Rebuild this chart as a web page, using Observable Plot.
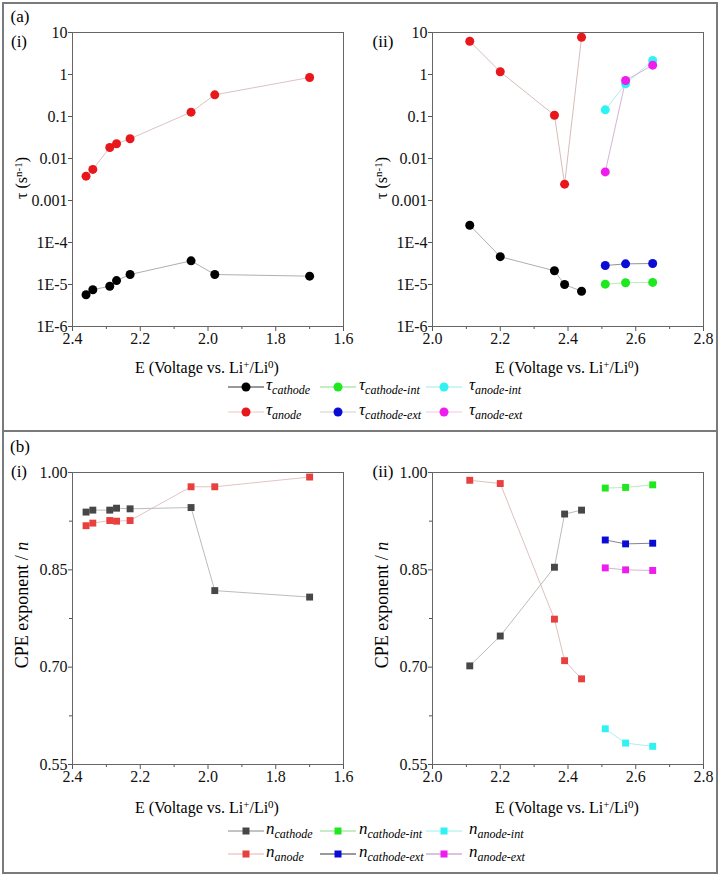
<!DOCTYPE html>
<html><head><meta charset="utf-8">
<script src="https://cdn.jsdelivr.net/npm/d3@7"></script>
<script src="https://cdn.jsdelivr.net/npm/@observablehq/plot@0.6"></script>
<style>
body{margin:0;background:#fff;}
#root{position:relative;width:720px;height:875px;font-family:"Liberation Serif","Tinos","DejaVu Serif",serif;color:#000;overflow:hidden;}
.abs{position:absolute;white-space:nowrap;}
.c{transform:translate(-50%,-50%);}
.rot{transform:translate(-50%,-50%) rotate(-90deg);}
sup.s{font-size:11px;position:relative;top:-0.5em;vertical-align:baseline;line-height:0;}
.lab{font-size:17px;}
.ttl{font-size:16px;}
.cpe{font-size:18px;}
.leg{font-size:17px;font-style:italic;}
.leg sub{font-size:12px;vertical-align:baseline;position:relative;top:0.35em;line-height:0;}
</style></head><body><div id="root"></div>
<script>
// ---------- data ----------
const E_i = [2.36, 2.34, 2.29, 2.27, 2.23, 2.05, 1.98, 1.70];
const tauCathode_i = [5.7e-6, 7.5e-6, 9.1e-6, 1.24e-5, 1.73e-5, 3.66e-5, 1.73e-5, 1.58e-5];
const tauAnode_i = [0.0038, 0.0055, 0.0183, 0.0224, 0.0295, 0.127, 0.328, 0.85];
const E_ii = [2.11, 2.20, 2.36, 2.39, 2.44];
const tauCathode_ii = [2.58e-4, 4.6e-5, 2.12e-5, 1.0e-5, 6.9e-6];
const tauAnode_ii = [6.2, 1.16, 0.107, 0.00245, 7.7];
const E_layer = [2.51, 2.57, 2.65];
const tauCathodeInt = [1.02e-5, 1.1e-5, 1.12e-5];
const tauCathodeExt = [2.83e-5, 3.1e-5, 3.16e-5];
const tauAnodeInt = [0.144, 0.6, 2.15];
const tauAnodeExt = [0.0048, 0.72, 1.67];
const nCathode_i = [0.939, 0.942, 0.942, 0.945, 0.944, 0.946, 0.818, 0.808];
const nAnode_i = [0.918, 0.922, 0.926, 0.925, 0.926, 0.978, 0.978, 0.993];
const nCathode_ii = [0.702, 0.748, 0.854, 0.936, 0.942];
const nAnode_ii = [0.988, 0.983, 0.774, 0.710, 0.682];
const nCathodeInt = [0.976, 0.977, 0.981];
const nCathodeExt = [0.896, 0.890, 0.891];
const nAnodeInt = [0.605, 0.583, 0.578];
const nAnodeExt = [0.853, 0.850, 0.849];

// ---------- ticks ----------
const xTicksI = [2.4, 2.2, 2.0, 1.8, 1.6];
const xMinorI = [2.3, 2.1, 1.9, 1.7];
const xTicksII = [2.0, 2.2, 2.4, 2.6, 2.8];
const xMinorII = [2.1, 2.3, 2.5, 2.7];
const tauTicks = [1e-6, 1e-5, 1e-4, 1e-3, 1e-2, 0.1, 1, 10];
const tauTickLabels = ["1E-6", "1E-5", "1E-4", "0.001", "0.01", "0.1", "1", "10"];
const nTicks = [0.55, 0.70, 0.85, 1.00];
const nMinor = [0.625, 0.775, 0.925];

const root = document.getElementById("root");
const FONT = "'Liberation Serif','Tinos','DejaVu Serif',serif";

function put(html, cls, x, y) {
  const d = document.createElement("div");
  d.className = "abs " + cls;
  d.style.left = x + "px"; d.style.top = y + "px";
  d.innerHTML = html;
  root.appendChild(d);
  return d;
}

function panel(o) {
  const marks = [];
  for (const s of o.series) {
    const data = s.x.map((x, i) => ({x, y: s.y[i]}));
    marks.push(Plot.line(data, {x: "x", y: "y", stroke: s.line, strokeWidth: 0.8}));
  }
  for (const s of o.series) {
    const data = s.x.map((x, i) => ({x, y: s.y[i]}));
    marks.push(Plot.dot(data, {x: "x", y: "y", fill: s.color, r: o.r, symbol: o.symbol, stroke: "none"}));
  }
  marks.push(Plot.axisX({ticks: o.xTicks, tickSize: 5, tickPadding: 1, tickFormat: d => d.toFixed(1), label: null, stroke: "#555"}));
  marks.push(Plot.axisX({ticks: o.xMinor, tickSize: 3, tickFormat: () => "", label: null, stroke: "#555"}));
  marks.push(Plot.axisY({ticks: o.yTicks, tickSize: 4, tickPadding: 1, tickFormat: o.yFormat, label: null, stroke: "#555"}));
  if (o.yMinor) marks.push(Plot.axisY({ticks: o.yMinor, tickSize: 3, tickFormat: () => "", label: null, stroke: "#555"}));
  marks.push(Plot.frame({stroke: "#666", strokeWidth: 1}));
  const svg = Plot.plot({
    width: 360, height: o.height,
    marginLeft: 72, marginRight: 17, marginTop: o.marginTop, marginBottom: o.marginBottom,
    x: {domain: o.xDomain},
    y: {type: o.yType, domain: o.yDomain},
    style: {fontFamily: FONT, fontSize: "16px", background: "transparent", color: "#111", overflow: "visible"},
    marks
  });
  svg.style.position = "absolute";
  svg.style.left = o.left + "px";
  svg.style.top = o.top + "px";
  root.appendChild(svg);
}

const tauFmt = d => tauTickLabels[tauTicks.findIndex(t => Math.abs(Math.log10(t) - Math.log10(d)) < 1e-6)];
const nFmt = d => d.toFixed(2);

// (a)(i)
panel({left: 0, top: 0, height: 356, marginTop: 32, marginBottom: 30,
  xDomain: [2.4, 1.6], xTicks: xTicksI, xMinor: xMinorI,
  yType: "log", yDomain: [1e-6, 10], yTicks: tauTicks, yFormat: tauFmt,
  r: 4.5, symbol: "circle",
  series: [
    {x: E_i, y: tauCathode_i, color: "#000000", line: "#9a9a9a"},
    {x: E_i, y: tauAnode_i, color: "#e8171b", line: "#d3b3b3"}
  ]});
// (a)(ii)
panel({left: 360, top: 0, height: 356, marginTop: 32, marginBottom: 30,
  xDomain: [2.0, 2.8], xTicks: xTicksII, xMinor: xMinorII,
  yType: "log", yDomain: [1e-6, 10], yTicks: tauTicks, yFormat: tauFmt,
  r: 4.5, symbol: "circle",
  series: [
    {x: E_ii, y: tauCathode_ii, color: "#000000", line: "#9a9a9a"},
    {x: E_ii, y: tauAnode_ii, color: "#e8171b", line: "#cfaaaa"},
    {x: E_layer, y: tauCathodeInt, color: "#1ee81e", line: "#a8e6a8"},
    {x: E_layer, y: tauCathodeExt, color: "#0b0bd6", line: "#777777"},
    {x: E_layer, y: tauAnodeInt, color: "#2ff2f2", line: "#9ae8e8"},
    {x: E_layer, y: tauAnodeExt, color: "#ee1cee", line: "#c9a0c9"}
  ]});
// (b)(i)
panel({left: 0, top: 440, height: 354, marginTop: 32, marginBottom: 30,
  xDomain: [2.4, 1.6], xTicks: xTicksI, xMinor: xMinorI,
  yType: "linear", yDomain: [0.55, 1.00], yTicks: nTicks, yFormat: nFmt, yMinor: nMinor,
  r: 3.9, symbol: "square",
  series: [
    {x: E_i, y: nCathode_i, color: "#474747", line: "#aaaaaa"},
    {x: E_i, y: nAnode_i, color: "#e8403f", line: "#dbb5b5"}
  ]});
// (b)(ii)
panel({left: 360, top: 440, height: 354, marginTop: 32, marginBottom: 30,
  xDomain: [2.0, 2.8], xTicks: xTicksII, xMinor: xMinorII,
  yType: "linear", yDomain: [0.55, 1.00], yTicks: nTicks, yFormat: nFmt, yMinor: nMinor,
  r: 3.9, symbol: "square",
  series: [
    {x: E_ii, y: nCathode_ii, color: "#474747", line: "#aaaaaa"},
    {x: E_ii, y: nAnode_ii, color: "#e8403f", line: "#d6b0b0"},
    {x: E_layer, y: nCathodeInt, color: "#1ee81e", line: "#a8e6a8"},
    {x: E_layer, y: nCathodeExt, color: "#0b0bd6", line: "#666677"},
    {x: E_layer, y: nAnodeInt, color: "#2ff2f2", line: "#9ae8e8"},
    {x: E_layer, y: nAnodeExt, color: "#ee1cee", line: "#c9a0c9"}
  ]});

// ---------- borders ----------
const border = document.createElement("div");
border.style.cssText = "position:absolute;left:2px;top:2px;width:716px;height:872px;border:2px solid #7a7a7a;box-sizing:border-box;";
root.appendChild(border);
const sep = document.createElement("div");
sep.style.cssText = "position:absolute;left:2px;top:430px;width:716px;height:2px;background:#7a7a7a;";
root.appendChild(sep);

// ---------- panel labels ----------
put("(a)", "lab c", 20, 17);
put("(i)", "lab c", 19, 42);
put("(ii)", "lab c", 383, 42);
put("(b)", "lab c", 20, 447);
put("(i)", "lab c", 19, 472);
put("(ii)", "lab c", 383, 472);

// ---------- axis titles ----------
const xTitle = "E (Voltage vs. Li<sup class='s'>+</sup>/Li<sup class='s'>0</sup>)";
put(xTitle, "ttl c", 207, 368);
put(xTitle, "ttl c", 567, 368);
put(xTitle, "ttl c", 207, 808);
put(xTitle, "ttl c", 567, 808);
const tauTitle = "τ (s<sup class='s'>n-1</sup>)";
put(tauTitle, "ttl rot", 22, 178);
put(tauTitle, "ttl rot", 382, 178);
put("CPE exponent / <i>n</i>", "cpe rot", 22, 605);
put("CPE exponent / <i>n</i>", "cpe rot", 382, 605);

// ---------- legends ----------
const legCols = [{m: 246, t: 266}, {m: 338, t: 359}, {m: 444, t: 469}];
function legend(symbolChar, rows, items, shape) {
  items.forEach((it, k) => {
    const col = legCols[k % 3], y = rows[Math.floor(k / 3)];
    const sv = document.createElementNS("http://www.w3.org/2000/svg", "svg");
    sv.setAttribute("width", 40); sv.setAttribute("height", 12);
    sv.style.cssText = `position:absolute;left:${col.m - 20}px;top:${y - 6}px;`;
    const mk = shape === "circle"
      ? `<circle cx="20" cy="6" r="4.5" fill="${it.color}"/>`
      : `<rect x="16.5" y="2.5" width="7" height="7" fill="${it.color}"/>`;
    sv.innerHTML = `<line x1="2" x2="38" y1="6" y2="6" stroke="${it.line}" stroke-width="1"/>` + mk;
    root.appendChild(sv);
    put(`${symbolChar}<sub>${it.name}</sub>`, "leg", col.t, y - 12);
  });
}
const tauLeg = [
  {name: "cathode", color: "#000000", line: "#333333"},
  {name: "cathode-int", color: "#1ee81e", line: "#88dd88"},
  {name: "anode-int", color: "#2ff2f2", line: "#99eeee"},
  {name: "anode", color: "#e8171b", line: "#f2c4c4"},
  {name: "cathode-ext", color: "#0b0bd6", line: "#cfcfcf"},
  {name: "anode-ext", color: "#ee1cee", line: "#f0c8e0"}
];
const nLeg = [
  {name: "cathode", color: "#474747", line: "#888888"},
  {name: "cathode-int", color: "#1ee81e", line: "#88dd88"},
  {name: "anode-int", color: "#2ff2f2", line: "#99eeee"},
  {name: "anode", color: "#e8403f", line: "#e8b0b0"},
  {name: "cathode-ext", color: "#0b0bd6", line: "#333344"},
  {name: "anode-ext", color: "#ee1cee", line: "#b488c4"}
];
legend("τ", [387, 412], tauLeg, "circle");
legend("n", [831, 854], nLeg, "square");
</script></body></html>
